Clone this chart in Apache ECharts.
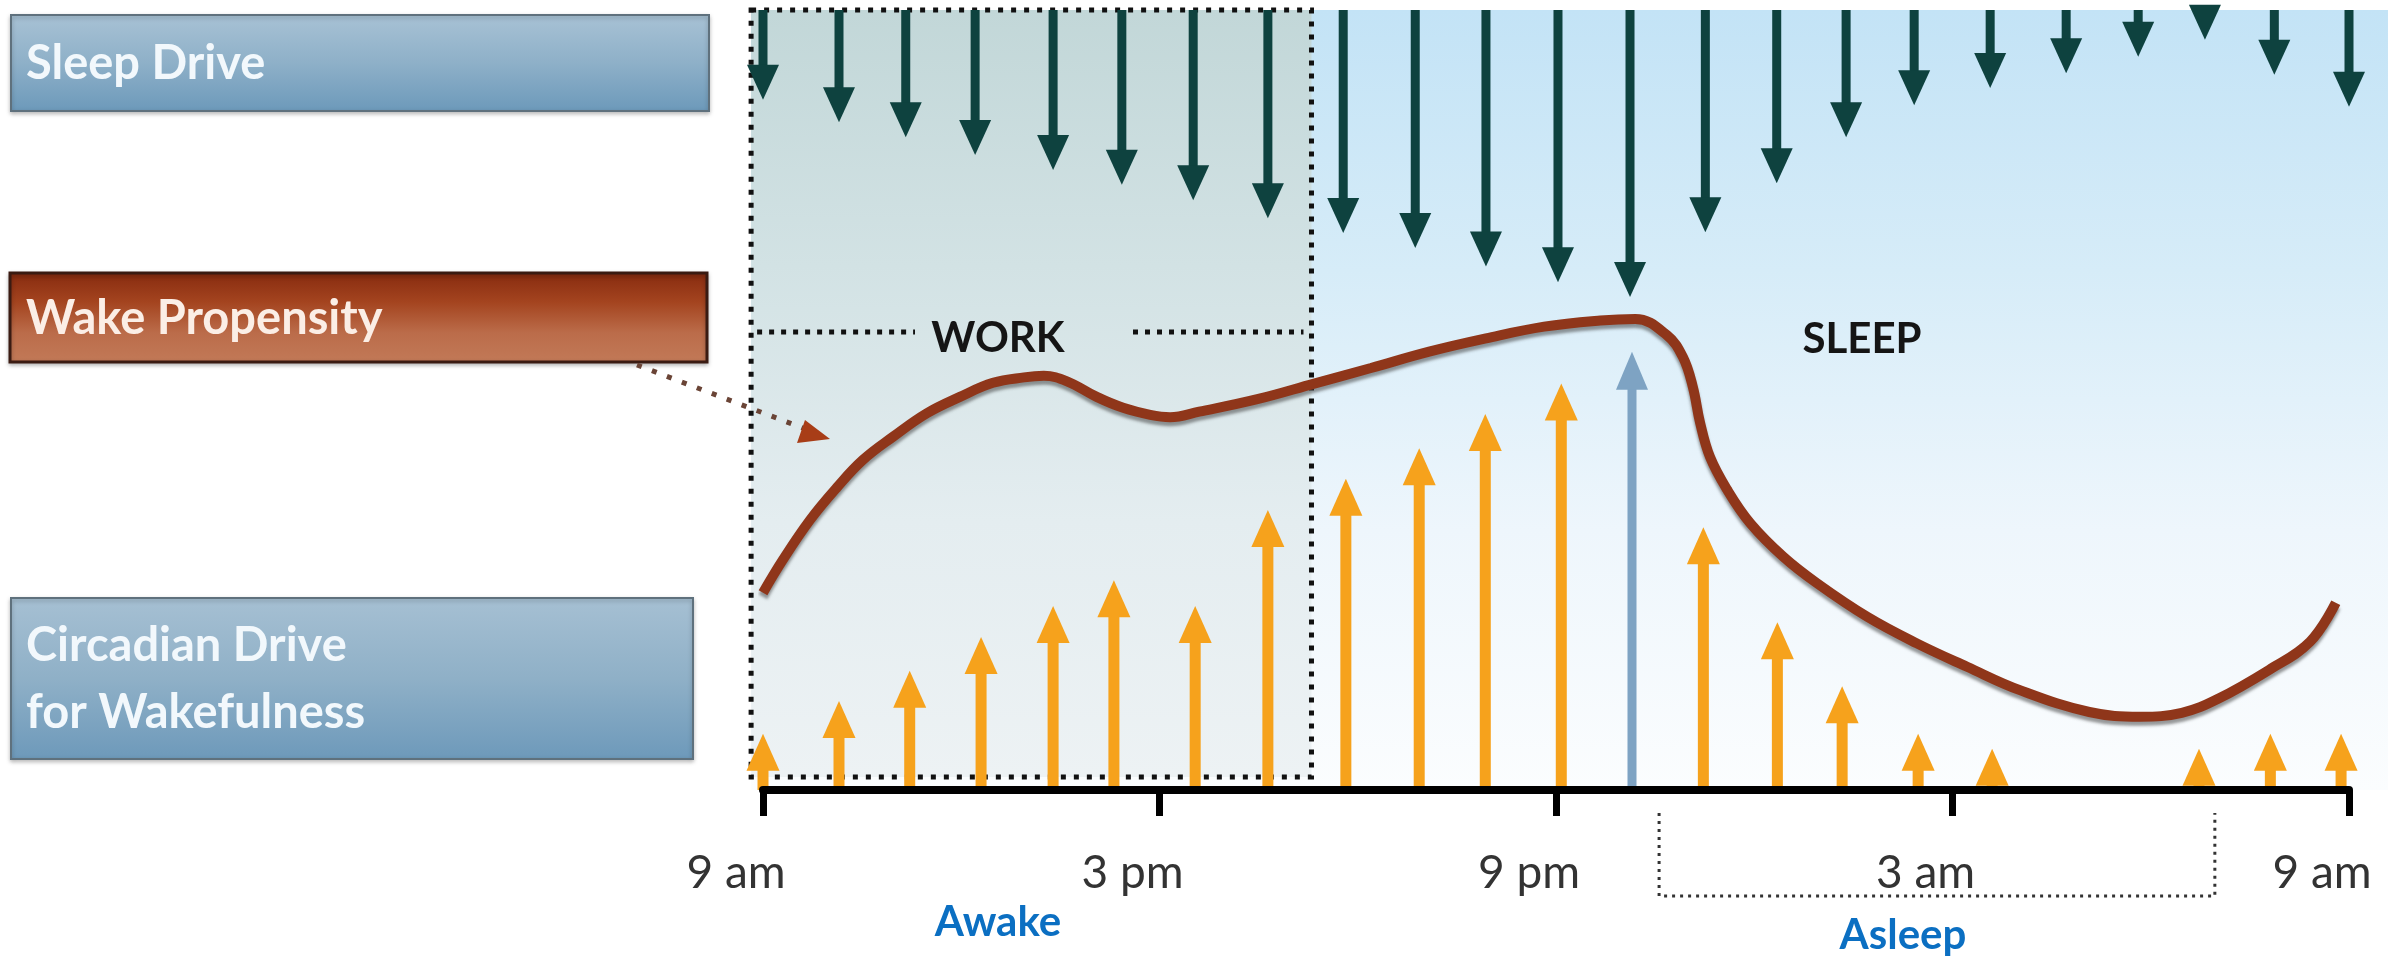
<!DOCTYPE html>
<html>
<head>
<meta charset="utf-8">
<script src="https://cdn.jsdelivr.net/npm/echarts@6/dist/echarts.min.js"></script>
<style>
html,body{margin:0;padding:0;background:#fff;}
#chart{width:2407px;height:958px;}
</style>
</head>
<body>
<div id="chart"></div>
<script>
// ---- data (hours after 9 am, arbitrary 0-100 strength units) ----
const tickHours = [0, 6, 12, 18, 24];
const tickLabels = ['9 am', '3 pm', '9 pm', '3 am', '9 am'];

const sleepHours = [0, 1.15, 2.16, 3.21, 4.39, 5.43, 6.51, 7.64, 8.78, 9.87, 10.94, 12.03, 13.12, 14.26, 15.34, 16.39, 17.42, 18.57, 19.72, 20.81, 21.82, 22.87, 24.0];
const sleepDrive = [11.5, 14.4, 16.3, 18.6, 20.5, 22.4, 24.4, 26.7, 28.6, 30.5, 32.9, 34.9, 36.8, 28.5, 22.2, 16.3, 12.2, 10.0, 8.1, 6.0, 3.8, 8.3, 12.4];

const circadianHours = [0, 1.15, 2.22, 3.30, 4.39, 5.31, 6.54, 7.64, 8.82, 9.93, 10.93, 12.08, 14.23, 15.35, 16.33, 17.48, 18.60, 21.73, 22.81, 23.88];
const circadianDrive = [7.2, 11.4, 15.3, 19.6, 23.6, 26.9, 23.6, 35.9, 39.9, 43.8, 48.2, 52.1, 33.7, 21.5, 13.3, 7.2, 5.3, 5.3, 7.2, 7.2];

const peakHours = [13.15];
const peakDrive = [56.2];

const wakeHours = [0, 0.30, 0.71, 1.12, 1.51, 1.97, 2.48, 2.98, 3.48, 3.95, 4.25, 4.60, 5.05, 5.45, 5.86, 6.16, 6.60, 7.48, 8.34, 9.20, 10.08, 10.94, 11.82, 12.67, 13.20, 13.68, 13.92, 14.07, 14.18, 14.33, 14.59, 14.94, 15.44, 15.95, 16.71, 17.46, 18.22, 19.02, 20.07, 20.84, 21.47, 22.02, 22.79, 23.41, 23.80];
const wakePropensity = [25.3, 29.5, 34.6, 38.8, 42.3, 45.3, 48.3, 50.4, 52.2, 52.9, 53.1, 52.4, 50.4, 49.0, 48.1, 47.8, 48.5, 50.1, 52.1, 54.1, 56.2, 57.9, 59.4, 60.2, 60.4, 58.3, 55.5, 51.7, 47.1, 42.7, 38.5, 34.2, 29.9, 26.5, 22.2, 18.8, 15.8, 12.8, 10.0, 9.4, 9.9, 11.7, 15.4, 19.0, 24.0];

const workPeriod = [-0.18, 8.3];
const sleepPeriod = [13.56, 21.97];
const backgroundEnd = 24.59;

// ---- chart ----
const chart = echarts.init(document.getElementById('chart'));
const FONT = 'Lato, "Open Sans", sans-serif';

function arrowDown(params, api) {
  const h = api.value(0), len = api.value(1);
  const top = api.coord([h, 100]);
  const tip = api.coord([h, 100 - len]);
  const H = 35, W = 32, S = 9;
  const children = [];
  const headBase = tip[1] - H;
  if (headBase > top[1]) {
    children.push({type: 'rect', shape: {x: top[0] - S / 2, y: top[1], width: S, height: headBase - top[1] + 2}, style: {fill: '#0e423f'}});
  }
  children.push({type: 'polygon', shape: {points: [[tip[0] - W / 2, headBase], [tip[0] + W / 2, headBase], [tip[0], tip[1]]]}, style: {fill: '#0e423f'}});
  return {type: 'group', children: children};
}

function makeArrowUp(color, S, W, H) {
  return function (params, api) {
    const h = api.value(0), len = api.value(1);
    const base = api.coord([h, 0]);
    const tip = api.coord([h, len]);
    const children = [];
    const headBase = Math.min(tip[1] + H, base[1]);
    if (headBase < base[1]) {
      children.push({type: 'rect', shape: {x: base[0] - S / 2, y: headBase - 2, width: S, height: base[1] - headBase + 2}, style: {fill: color}});
    }
    children.push({type: 'polygon', shape: {points: [[tip[0] - W / 2, headBase], [tip[0] + W / 2, headBase], [tip[0], tip[1]]]}, style: {fill: color}});
    return {type: 'group', children: children};
  };
}

chart.setOption({
  animation: false,
  grid: {left: 763, right: 58, top: 10, bottom: 168, containLabel: false},
  xAxis: {
    type: 'value', min: 0, max: 24, interval: 6, z: 10,
    axisLine: {show: true, lineStyle: {color: '#000', width: 8}},
    axisTick: {show: true, length: 26, lineStyle: {color: '#000', width: 7}},
    splitLine: {show: false},
    axisLabel: {
      margin: 60, fontFamily: FONT, fontSize: 46, color: '#333',
      padding: [0, 54, 0, 0],
      formatter: function (v) { const i = tickHours.indexOf(v); return i >= 0 ? tickLabels[i] : ''; }
    }
  },
  yAxis: {type: 'value', min: 0, max: 100, show: false},
  series: [
    {
      name: 'Sleep Drive', type: 'custom', clip: false, z: 3,
      data: sleepHours.map((h, i) => [h, sleepDrive[i]]),
      renderItem: arrowDown
    },
    {
      name: 'Circadian Drive for Wakefulness', type: 'custom', clip: false, z: 3,
      data: circadianHours.map((h, i) => [h, circadianDrive[i]]),
      renderItem: makeArrowUp('#f6a21c', 11, 33, 37)
    },
    {
      name: 'Peak circadian drive', type: 'custom', clip: false, z: 3,
      data: peakHours.map((h, i) => [h, peakDrive[i]]),
      renderItem: makeArrowUp('#7ea3c3', 9, 32, 38)
    },
    {
      name: 'Wake Propensity', type: 'line', z: 6,
      data: wakeHours.map((h, i) => [h, wakePropensity[i]]),
      smooth: 0.4, symbol: 'none',
      lineStyle: {color: '#8f361a', width: 10, shadowColor: 'rgba(70,70,70,0.55)', shadowBlur: 3, shadowOffsetY: 4}
    }
  ]
});

// ---- decoration (positions derived from the axes) ----
const P = (h, v) => chart.convertToPixel({gridIndex: 0}, [h, v]);
const yTop = P(0, 100)[1], yAxis0 = P(0, 0)[1];
const bgL = P(workPeriod[0], 0)[0], bgR = P(backgroundEnd, 0)[0];
const wL = P(workPeriod[0], 0)[0], wR = P(workPeriod[1], 0)[0];
const wB = P(0, 1.67)[1];
const sL = P(sleepPeriod[0], 0)[0], sR = P(sleepPeriod[1], 0)[0];

function vgrad(stops) {
  return new echarts.graphic.LinearGradient(0, 0, 0, 1, stops.map((c, i) => ({offset: i / (stops.length - 1), color: c})));
}
function txt(text, x, y, font, fill, align) {
  return {type: 'text', z: 20, style: {text: text, x: x, y: y, font: font, fill: fill, textAlign: align || 'left', align: align || 'left', textVerticalAlign: 'middle', verticalAlign: 'middle'}};
}
const dotted = (w, d) => ({stroke: '#111', lineWidth: w, lineDash: [w, d], fill: null});

const elements = [
  // backgrounds
  {type: 'rect', z: -5, shape: {x: bgL, y: yTop, width: bgR - bgL, height: yAxis0 - yTop}, style: {fill: vgrad(['#c3e3f6', '#d6ecf8', '#eef6fc', '#fbfdfe'])}},
  {type: 'rect', z: -4, shape: {x: wL, y: yTop, width: wR - wL, height: wB - yTop}, style: {fill: vgrad(['#c2d7d8', '#d2e2e4', '#e4edf0', '#edf2f4'])}},
  // work dotted box
  {type: 'rect', z: 1, shape: {x: wL, y: yTop, width: wR - wL, height: wB - yTop}, style: dotted(5, 8)},
  {type: 'line', z: 1, shape: {x1: wL + 6, y1: 332, x2: 915, y2: 332}, style: dotted(5, 7)},
  {type: 'line', z: 1, shape: {x1: 1133, y1: 332, x2: wR - 8, y2: 332}, style: dotted(5, 7)},
  txt('WORK', 998, 338, 'bold 42px ' + FONT, '#151515', 'center'),
  txt('SLEEP', 1862, 339, 'bold 42px ' + FONT, '#151515', 'center'),
  // asleep bracket
  {type: 'polyline', z: 1, shape: {points: [[sL, 813], [sL, 896], [sR, 896], [sR, 813]]}, style: {stroke: '#333', lineWidth: 3, lineDash: [3, 5], fill: null}},
  txt('Awake', 998, 922, 'bold 42px ' + FONT, '#0b6fc2', 'center'),
  txt('Asleep', 1903, 935, 'bold 42px ' + FONT, '#0b6fc2', 'center'),
  // left label boxes
  {type: 'rect', z: 10, shape: {x: 11, y: 15, width: 698, height: 96}, style: {fill: vgrad(['#a8c2d5', '#8eb0c8', '#6c99ba']), stroke: '#5f717d', lineWidth: 2, shadowBlur: 4, shadowColor: 'rgba(0,0,0,0.25)', shadowOffsetY: 2}},
  txt('Sleep Drive', 26, 64, 'bold 47px ' + FONT, '#f2f8fc'),
  {type: 'rect', z: 10, shape: {x: 10, y: 273, width: 697, height: 89}, style: {fill: vgrad(['#862a0f', '#a4441f', '#bb6c4a', '#c27a58']), stroke: '#3a1b12', lineWidth: 3, shadowBlur: 4, shadowColor: 'rgba(0,0,0,0.25)', shadowOffsetY: 2}},
  txt('Wake Propensity', 26, 319, 'bold 47px ' + FONT, '#fbeee6'),
  {type: 'rect', z: 10, shape: {x: 11, y: 598, width: 682, height: 161}, style: {fill: vgrad(['#a6c0d3', '#8fb0c7', '#6d99ba']), stroke: '#5f717d', lineWidth: 2, shadowBlur: 4, shadowColor: 'rgba(0,0,0,0.25)', shadowOffsetY: 2}},
  txt('Circadian Drive', 26, 646, 'bold 47px ' + FONT, '#f2f8fc'),
  txt('for Wakefulness', 26, 713, 'bold 47px ' + FONT, '#f2f8fc'),
  // pointer from the Wake Propensity label
  {type: 'line', z: 11, shape: {x1: 637, y1: 365, x2: 808, y2: 430}, style: {stroke: '#6a4436', lineWidth: 5, lineDash: [5, 11]}},
  {type: 'polygon', z: 11, shape: {points: [[830, 439], [805, 420], [797, 443]]}, style: {fill: '#a83d17'}}
];

chart.setOption({graphic: {elements: elements}});
</script>
</body>
</html>
